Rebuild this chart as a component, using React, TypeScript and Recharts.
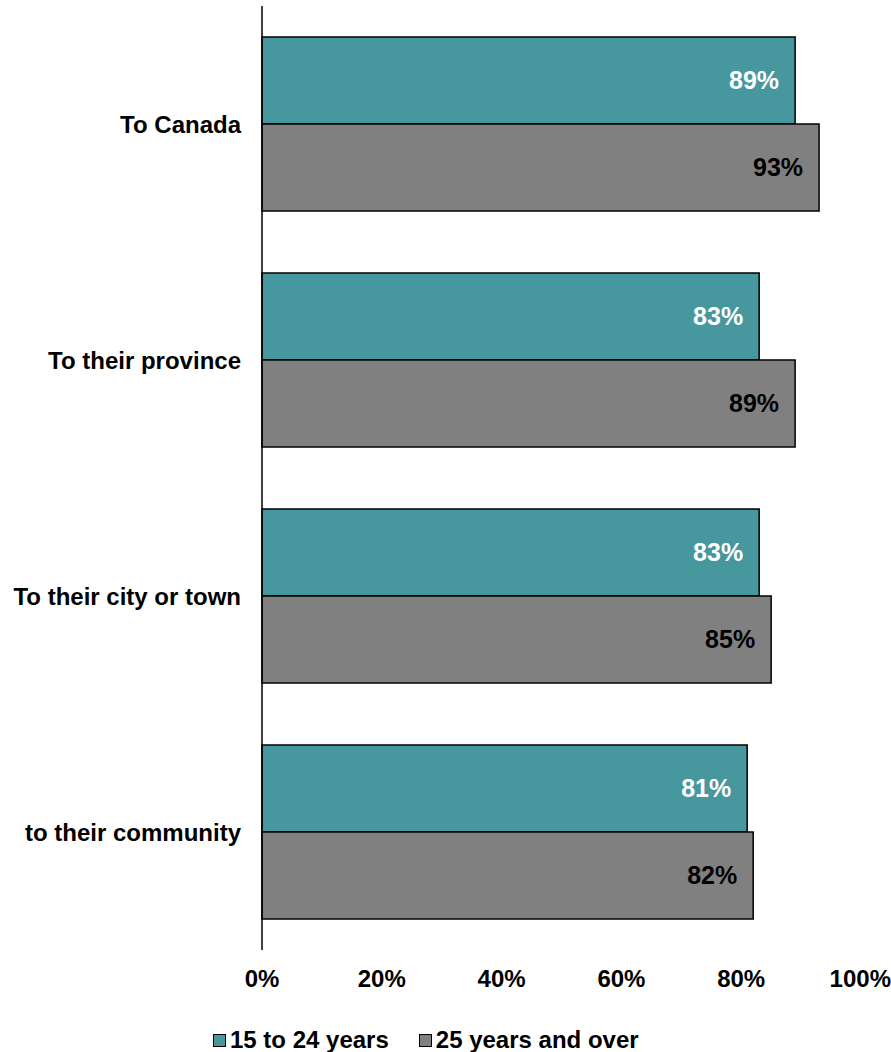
import { Bar, BarChart, LabelList, Legend, XAxis, YAxis } from 'recharts'

const categories = ['To Canada', 'To their province', 'To their city or town', 'to their community']
const youth = [89, 83, 83, 81]
const adults = [93, 89, 85, 82]
const xTicks = [0, 20, 40, 60, 80, 100]

const seriesNames = { youth: '15 to 24 years', adults: '25 years and over' }
const TEAL = '#46979e'
const GREY = '#808080'
const FONT = '"Liberation Sans", Arial, sans-serif'

const data = categories.map((name, i) => ({ name, youth: youth[i], adults: adults[i] }))

const pct = (v: unknown) => `${v}%`

const renderLegend = () => (
	<div
		style={{
			display: 'flex',
			alignItems: 'center',
			paddingLeft: 213,
			height: 40,
			fontFamily: FONT,
			fontWeight: 'bold',
			fontSize: 24,
			color: '#000',
		}}
	>
		{[
			{ label: seriesNames.youth, color: TEAL },
			{ label: seriesNames.adults, color: GREY },
		].map((item) => (
			<span key={item.label} style={{ display: 'flex', alignItems: 'center', marginRight: 30 }}>
				<span
					style={{
						display: 'inline-block',
						width: 11,
						height: 11,
						background: item.color,
						border: '1.5px solid #000',
						marginRight: 4,
					}}
				/>
				{item.label}
			</span>
		))}
	</div>
)

export default function App() {
	return (
		<div style={{ position: 'absolute', left: 0, top: 0, fontFamily: FONT }}>
			<BarChart
				width={891}
				height={1052}
				data={data}
				layout="vertical"
				margin={{ top: 6, right: 30, left: 0, bottom: 0 }}
				barGap={0}
			>
				<XAxis
					type="number"
					domain={[0, 100]}
					ticks={xTicks}
					tickFormatter={pct}
					axisLine={false}
					tickLine={false}
					tickSize={0}
					tickMargin={20}
					height={62}
					tick={{ fill: '#000', fontSize: 24, fontWeight: 'bold', fontFamily: FONT }}
				/>
				<YAxis
					type="category"
					dataKey="name"
					width={262}
					axisLine={{ stroke: '#000', strokeWidth: 1.5 }}
					tickLine={false}
					tickSize={0}
					tickMargin={21}
					tick={{ fill: '#000', fontSize: 24, fontWeight: 'bold', fontFamily: FONT }}
				/>
				<Legend verticalAlign="bottom" content={renderLegend} wrapperStyle={{ top: 1020, left: 0, width: 891 }} />
				<Bar dataKey="youth" name={seriesNames.youth} fill={TEAL} stroke="#000" strokeWidth={1.5} barSize={87} isAnimationActive={false}>
					<LabelList
						dataKey="youth"
						position="insideRight"
						offset={16}
						formatter={pct}
						style={{ fill: '#fff', fontSize: 25, fontWeight: 'bold', fontFamily: FONT }}
					/>
				</Bar>
				<Bar dataKey="adults" name={seriesNames.adults} fill={GREY} stroke="#000" strokeWidth={1.5} barSize={87} isAnimationActive={false}>
					<LabelList
						dataKey="adults"
						position="insideRight"
						offset={16}
						formatter={pct}
						style={{ fill: '#000', fontSize: 25, fontWeight: 'bold', fontFamily: FONT }}
					/>
				</Bar>
			</BarChart>
		</div>
	)
}
